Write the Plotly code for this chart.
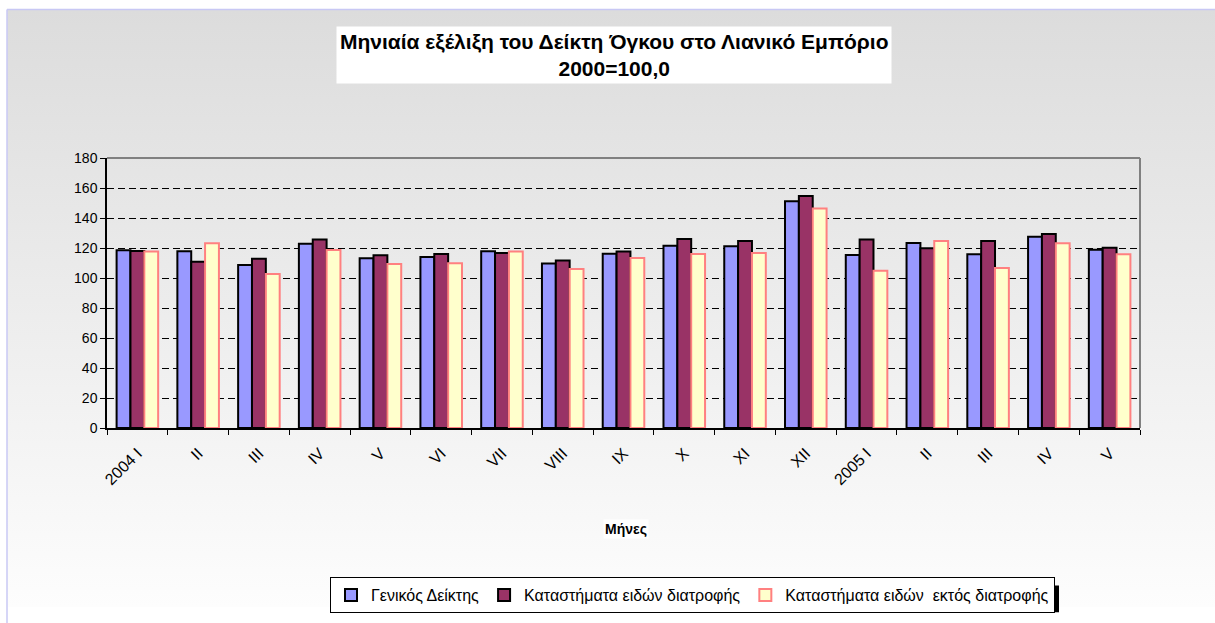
import base64
import plotly.graph_objects as go

months = ["2004 I", "II", "III", "IV", "V", "VI", "VII", "VIII", "IX", "X", "XI", "XII",
          "2005 I", "II ", "III ", "IV ", "V "]
month_labels = ["2004 I", "II", "III", "IV", "V", "VI", "VII", "VIII", "IX", "X", "XI", "XII",
                "2005 I", "II", "III", "IV", "V"]

general_index = [118.5, 117.8, 108.7, 122.9, 113.1, 114.0, 117.8, 109.6, 116.2, 121.5, 121.1, 151.2,
                 115.3, 123.3, 115.8, 127.5, 118.9]
food_stores = [118.0, 110.9, 112.9, 125.7, 115.1, 116.0, 116.7, 111.6, 117.6, 126.0, 124.6, 154.7,
               125.7, 119.8, 124.6, 129.3, 120.2]
nonfood_stores = [117.7, 123.1, 102.7, 118.7, 109.4, 109.8, 117.6, 106.0, 113.3, 116.0, 116.7, 146.3,
                  104.9, 124.6, 106.7, 123.1, 115.8]

series_names = ["Γενικός Δείκτης", "Καταστήματα ειδών διατροφής",
                "Καταστήματα ειδών \u00a0εκτός διατροφής"]

W, H = 1215, 623
L, R, T, B = 107, 1140, 158, 429


def px(x):
    return (x - L) / (R - L)


def py(y):
    return (B - y) / (B - T)


FONT = "Liberation Sans, Arial, sans-serif"

fig = go.Figure()
styles = [("#9999FF", "#000000"), ("#993366", "#000000"), ("#FFFFCC", "#FF8080")]
for name, vals, (fc, lc) in zip(series_names, [general_index, food_stores, nonfood_stores], styles):
    fig.add_trace(go.Bar(x=months, y=vals, name=name,
                         marker=dict(color=fc, line=dict(color=lc, width=2))))

svg = ('<svg xmlns="http://www.w3.org/2000/svg" width="100" height="100" preserveAspectRatio="none">'
       '<defs><linearGradient id="g" x1="0" y1="0" x2="0" y2="1">'
       '<stop offset="0" stop-color="#dcdcdc"/><stop offset="1" stop-color="#fdfdfd"/>'
       '</linearGradient></defs><rect width="100" height="100" fill="url(#g)"/></svg>')
src = "data:image/svg+xml;base64," + base64.b64encode(svg.encode()).decode()

fig.update_layout(
    width=W, height=H,
    margin=dict(l=L, r=W - R, t=T, b=H - B),
    paper_bgcolor="white",
    plot_bgcolor="white",
    barmode="group",
    bargap=0.316,
    bargroupgap=0,
    font=dict(family=FONT, color="black", size=12),
    showlegend=True,
    legend=dict(orientation="h", x=px(330), xanchor="left", y=py(595), yanchor="middle",
                bgcolor="white", bordercolor="black", borderwidth=1,
                font=dict(size=16, family=FONT), itemwidth=30,
                tracegroupgap=0, traceorder="normal"),
    images=[dict(source=src, xref="paper", yref="paper", x=px(7), y=py(9),
                 sizex=(W - 7) / (R - L), sizey=(609 - 9) / (B - T),
                 xanchor="left", yanchor="top", sizing="stretch", layer="below")],
    xaxis=dict(type="category", tickmode="array", tickvals=months, ticktext=month_labels,
               tickangle=-45, tickfont=dict(size=16, family=FONT), ticklabelstandoff=8,
               showline=True, linecolor="black", linewidth=1.5,
               ticks="outside", ticklen=5, tickcolor="black", tickson="boundaries",
               showgrid=False),
    yaxis=dict(range=[0, 180], dtick=20, tickfont=dict(size=14, family=FONT),
               showline=True, linecolor="black", linewidth=1.5,
               ticks="outside", ticklen=5, tickcolor="black",
               showgrid=True, gridcolor="black", gridwidth=1, griddash="7px,4px",
               zeroline=False),
    shapes=[
        dict(type="line", xref="paper", yref="paper", x0=0, x1=1, y0=1, y1=1,
             line=dict(color="#808080", width=2)),
        dict(type="line", xref="paper", yref="paper", x0=1, x1=1, y0=0, y1=1,
             line=dict(color="#808080", width=2)),
        dict(type="line", xref="paper", yref="paper", x0=px(7), x1=px(W + 5), y0=py(9), y1=py(9),
             line=dict(color="#c8c8f4", width=1.5), layer="below"),
        dict(type="line", xref="paper", yref="paper", x0=px(7), x1=px(7), y0=py(9), y1=py(H + 5),
             line=dict(color="#c8c8f4", width=1.5), layer="below"),
        dict(type="rect", xref="paper", yref="paper", x0=px(335), x1=px(1059), y0=py(587), y1=py(614),
             fillcolor="black", line=dict(width=0), layer="below"),
    ],
    annotations=[
        dict(text="<b>Μηνιαία εξέλιξη του Δείκτη Όγκου στο Λιανικό Εμπόριο<br>2000=100,0</b>",
             xref="paper", yref="paper", x=px(613.5), y=py(55), xanchor="center", yanchor="middle",
             showarrow=False, bgcolor="white", font=dict(size=21, family=FONT), borderpad=3),
        dict(text="<b>Μήνες</b>", xref="paper", yref="paper", x=px(626), y=py(530),
             xanchor="center", yanchor="middle", showarrow=False, bgcolor="white",
             font=dict(size=14, family=FONT)),
    ],
)

fig.write_html("out.html", config={"displayModeBar": False},
               post_script="document.body.style.margin='0';")
